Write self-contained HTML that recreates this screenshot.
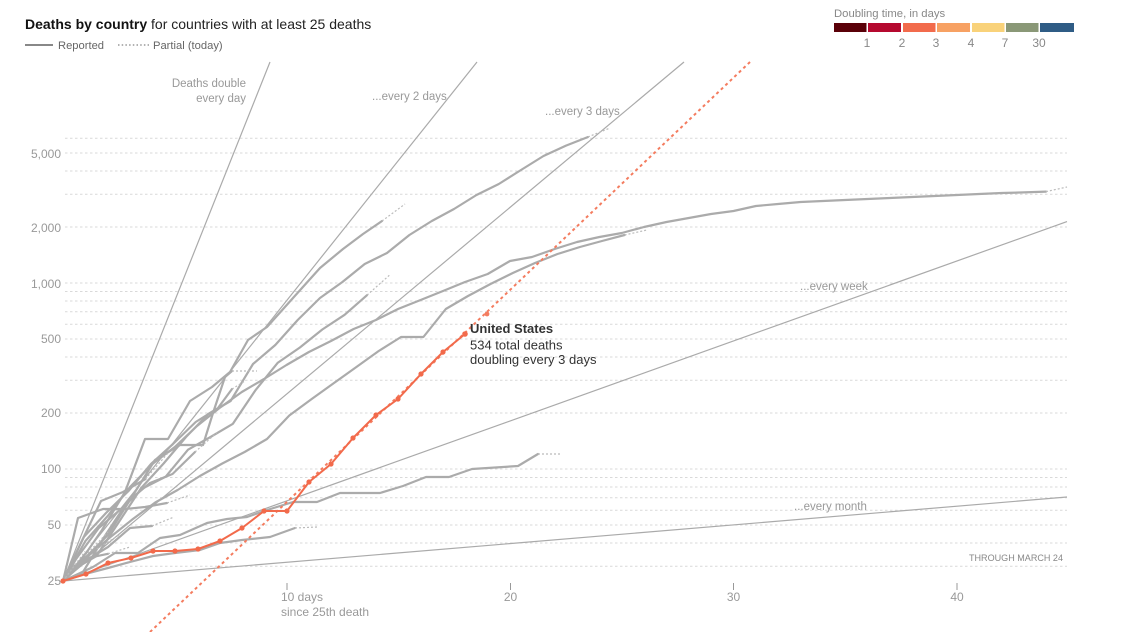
<!DOCTYPE html>
<html>
<head>
<meta charset="utf-8">
<style>
  html,body{margin:0;padding:0;background:#fff;}
  svg{display:block;}
  text{font-family:"Liberation Sans",Arial,sans-serif;}
</style>
</head>
<body>
<svg width="1136" height="632" viewBox="0 0 1136 632" xmlns="http://www.w3.org/2000/svg">
  <rect width="1136" height="632" fill="#fff"/>

  <!-- Title -->
  <text x="25" y="29" font-size="14" fill="#121212"><tspan font-weight="bold">Deaths by country</tspan><tspan fill="#222"> for countries with at least 25 deaths</tspan></text>

  <!-- Legend -->
  <line x1="25" y1="45" x2="53" y2="45" stroke="#888" stroke-width="2"/>
  <text x="58" y="49" font-size="11.2" fill="#666">Reported</text>
  <line x1="118" y1="45" x2="149" y2="45" stroke="#999" stroke-width="1.4" stroke-dasharray="1.5 2.2"/>
  <text x="153" y="49" font-size="11.2" fill="#666">Partial (today)</text>

  <!-- Doubling time key -->
  <text x="834" y="17" font-size="11.3" fill="#888">Doubling time, in days</text>
  <rect x="834" y="23" width="32.5" height="9" fill="#5a0008"/>
  <rect x="868" y="23" width="33" height="9" fill="#b5092f"/>
  <rect x="903" y="23" width="32.5" height="9" fill="#f26b4c"/>
  <rect x="937" y="23" width="33" height="9" fill="#f7a163"/>
  <rect x="972" y="23" width="32.5" height="9" fill="#f9d27a"/>
  <rect x="1006" y="23" width="32.5" height="9" fill="#8a9877"/>
  <rect x="1040" y="23" width="34" height="9" fill="#2f5c85"/>
  <g font-size="12" fill="#888" text-anchor="middle">
    <text x="867" y="47">1</text>
    <text x="902" y="47">2</text>
    <text x="936" y="47">3</text>
    <text x="971" y="47">4</text>
    <text x="1005" y="47">7</text>
    <text x="1039" y="47">30</text>
  </g>

  <!-- Gridlines -->
  <g stroke="#d9d9d9" stroke-width="1" stroke-dasharray="2.5 2.5">
    <line x1="65" x2="1067" y1="566.3" y2="566.3"/>
    <line x1="65" x2="1067" y1="543" y2="543"/>
    <line x1="65" x2="1067" y1="525" y2="525"/>
    <line x1="65" x2="1067" y1="510.3" y2="510.3"/>
    <line x1="65" x2="1067" y1="497.8" y2="497.8"/>
    <line x1="65" x2="1067" y1="487" y2="487"/>
    <line x1="65" x2="1067" y1="477.5" y2="477.5"/>
    <line x1="65" x2="1067" y1="469" y2="469"/>
    <line x1="65" x2="1067" y1="413" y2="413"/>
    <line x1="65" x2="1067" y1="380.2" y2="380.2"/>
    <line x1="65" x2="1067" y1="357" y2="357"/>
    <line x1="65" x2="1067" y1="339" y2="339"/>
    <line x1="65" x2="1067" y1="324.2" y2="324.2"/>
    <line x1="65" x2="1067" y1="311.8" y2="311.8"/>
    <line x1="65" x2="1067" y1="301" y2="301"/>
    <line x1="65" x2="1067" y1="291.5" y2="291.5"/>
    <line x1="65" x2="1067" y1="283" y2="283"/>
    <line x1="65" x2="1067" y1="227" y2="227"/>
    <line x1="65" x2="1067" y1="194.2" y2="194.2"/>
    <line x1="65" x2="1067" y1="171" y2="171"/>
    <line x1="65" x2="1067" y1="153" y2="153"/>
    <line x1="65" x2="1067" y1="138.2" y2="138.2"/>
  </g>

  <!-- Y labels -->
  <g font-size="12" fill="#999" text-anchor="end">
    <text x="61" y="158">5,000</text>
    <text x="61" y="232">2,000</text>
    <text x="61" y="288">1,000</text>
    <text x="61" y="343">500</text>
    <text x="61" y="417">200</text>
    <text x="61" y="473">100</text>
    <text x="61" y="529">50</text>
    <text x="61" y="585">25</text>
  </g>

  <!-- X ticks / labels -->
  <g stroke="#999" stroke-width="1">
    <line x1="287" y1="583" x2="287" y2="590"/>
    <line x1="510.5" y1="583" x2="510.5" y2="590"/>
    <line x1="733.5" y1="583" x2="733.5" y2="590"/>
    <line x1="957" y1="583" x2="957" y2="590"/>
  </g>
  <g font-size="12" fill="#999">
    <text x="281" y="601">10 days</text>
    <text x="281" y="616">since 25th death</text>
    <text x="510.5" y="601" text-anchor="middle">20</text>
    <text x="733.5" y="601" text-anchor="middle">30</text>
    <text x="957" y="601" text-anchor="middle">40</text>
  </g>
  <text x="1063" y="561" font-size="9.5" fill="#888" text-anchor="end" textLength="94" lengthAdjust="spacingAndGlyphs">THROUGH MARCH 24</text>

  <!-- Reference lines -->
  <g stroke="#aaa" stroke-width="1.2" fill="none">
    <line x1="63" y1="581" x2="270" y2="62"/>
    <line x1="63" y1="581" x2="477" y2="62"/>
    <line x1="63" y1="581" x2="684" y2="62"/>
    <line x1="63" y1="581" x2="1067" y2="221.6"/>
    <line x1="63" y1="581" x2="1067" y2="497"/>
  </g>

  <!-- Reference labels -->
  <g font-size="11.5" fill="#999">
    <text x="246" y="87" text-anchor="end">Deaths double</text>
    <text x="246" y="102" text-anchor="end">every day</text>
    <text x="372" y="100">...every 2 days</text>
    <text x="545" y="115">...every 3 days</text>
    <text x="800" y="290">...every week</text>
    <text x="794" y="510">...every month</text>
  </g>

  <!-- Country series -->
  <g stroke="#ababab" stroke-width="2.2" fill="none" stroke-linejoin="round" stroke-linecap="round">
    <!-- China -->
    <polyline points="63,581 85.4,541 107.7,516 130,487 152.4,464 174.8,447 197,426 219.5,408 241.8,392 264,379 286.5,365 308.9,352 331,341 353.6,329 375.9,320 398,309 420.6,300 443,291 465,282 487.7,274 510,261 532,257 554.7,249 577,242 599.4,237 621.8,233 644,227 666.5,222 688.8,218 711,214 733.5,211 755.9,206 778,204 800.6,202 823,201 845,200 867.6,199 890,198 912,197 934.7,196 957,195 979,194 1001.7,193 1024,192.4 1046,191.6"/>
    <!-- Italy -->
    <polyline points="63,581 74.2,569 96.5,556 118.9,522 141.2,488 163.6,463.5 186,437 208.3,414 230.6,401 253,364 275.3,345 297.7,320 320,298 342.4,282 364.7,264 387,253 409.4,235 431.8,221 454,209 476.5,195 498.8,184 521,170 543.5,156 566,145.6 588,137"/>
    <!-- Iran -->
    <polyline points="63,581 65.8,578 88.2,556 110.5,537 132.9,519 155.2,502.5 177.6,490 199.9,476 222.3,463.5 244.6,452 267,439 289.3,415.5 311.7,399 334,383 356.4,367 378.7,351 401,337 423.4,337 445.8,309 468,296 490.5,284 512.8,273 535,263 557.5,254 579.9,247 602,241 624.6,235"/>
    <!-- Spain -->
    <polyline points="63,581 80,562 102,530 125,492 145,439 168,439 190,401 212,387 230,372 248,340 267,327 293,298 320,268 343,249 363,234 382,221"/>
    <!-- France -->
    <polyline points="63,581 76.4,558.6 98.8,528 121,509 143.5,488 165.8,476.6 188,449.7 210.5,437 232.9,423.8 255.2,390.6 277.6,362.9 299.9,347.5 322.3,329.5 344.6,314.8 367,295.2"/>
    <!-- UK -->
    <polyline points="63,581 85,558 108,535 130,500 155,460 180,445 203,445 213,413 225,377 232,371"/>
    <!-- Netherlands -->
    <polyline points="63,581 83.8,537 106,513 128.5,491 151,464 173,444 195.7,422 218,408 232,389"/>
    <!-- Germany -->
    <polyline points="63,581 83,572 105.5,535 128,501 150,483 172.5,474 195,452"/>
    <!-- Belgium -->
    <polyline points="63,581 78,549 101,501 123,492 145.5,479"/>
    <!-- Switzerland-ish -->
    <polyline points="63,581 78,518 103,509 125,509 145,507 167,503"/>
    <!-- Indonesia -->
    <polyline points="63,581 85,561 108,547 130,528 152,526"/>
    <!-- South Korea -->
    <polyline points="63,581 93,567 115,553 138,553 160,538 180,535 207,523 227,519 247,517 267,510 293,502 317,502 340,493 380,493 403,486 426,477 449,477 472,469 518,466 538,454"/>
    <!-- Japan -->
    <polyline points="63,581 85,574 108,568 130,562 153,556 175,553 200,550 220,543 242,540 270,537 295,528"/>
    <!-- Philippines -->
    <polyline points="63,581 85,558.6 108,553.8"/>
    <!-- Brazil -->
    <polyline points="63,581 85,556"/>
    <!-- Turkey -->
    <polyline points="63,581 74.4,566 96.8,549"/>
  </g>

  <!-- Partial (today) segments -->
  <g stroke="#bbb" stroke-width="1.2" fill="none" stroke-dasharray="2 2">
    <line x1="1046" y1="191.6" x2="1067" y2="187"/>
    <line x1="588" y1="137" x2="610" y2="128"/>
    <line x1="624.6" y1="235" x2="647" y2="230"/>
    <line x1="382" y1="221" x2="405" y2="204"/>
    <line x1="367" y1="295.2" x2="389.3" y2="275.3"/>
    <line x1="232" y1="371" x2="257" y2="371"/>
    <line x1="232" y1="389" x2="245" y2="381"/>
    <line x1="195" y1="452" x2="217" y2="432.5"/>
    <line x1="145.5" y1="479" x2="168" y2="453"/>
    <line x1="167" y1="503" x2="190" y2="495"/>
    <line x1="152" y1="526" x2="174" y2="517"/>
    <line x1="538" y1="454" x2="561" y2="454"/>
    <line x1="295" y1="528" x2="317" y2="527"/>
    <line x1="108" y1="553.8" x2="130" y2="547"/>
    <line x1="85" y1="556" x2="108" y2="532"/>
    <line x1="96.8" y1="549" x2="119" y2="535"/>
    <line x1="63" y1="581" x2="85" y2="551.5"/>
  </g>

  <!-- US projection -->
  <line x1="150" y1="632" x2="750" y2="62" stroke="#f47c5f" stroke-width="2" stroke-dasharray="3 3.2"/>

  <!-- United States -->
  <polyline fill="none" stroke="#f26a4b" stroke-width="2" stroke-linejoin="round"
    points="63,581 86,574 108,563 131,558 153,551 175,551 198,549 220,541 242,528 264,511 287,511 309,482 331,464 353,438 376,415 398,399 421,374 443,352 465,334"/>
  <g fill="#f26a4b">
    <circle cx="63" cy="581" r="2.6"/>
    <circle cx="86" cy="574" r="2.6"/>
    <circle cx="108" cy="563" r="2.6"/>
    <circle cx="131" cy="558" r="2.6"/>
    <circle cx="153" cy="551" r="2.6"/>
    <circle cx="175" cy="551" r="2.6"/>
    <circle cx="198" cy="549" r="2.6"/>
    <circle cx="220" cy="541" r="2.6"/>
    <circle cx="242" cy="528" r="2.6"/>
    <circle cx="264" cy="511" r="2.6"/>
    <circle cx="287" cy="511" r="2.6"/>
    <circle cx="309" cy="482" r="2.6"/>
    <circle cx="331" cy="464" r="2.6"/>
    <circle cx="353" cy="438" r="2.6"/>
    <circle cx="376" cy="415" r="2.6"/>
    <circle cx="398" cy="399" r="2.6"/>
    <circle cx="421" cy="374" r="2.6"/>
    <circle cx="443" cy="352" r="2.6"/>
    <circle cx="465" cy="334" r="2.8"/>
    <circle cx="487" cy="314" r="2.4" fill="#f47c5f"/>
  </g>

  <!-- US label -->
  <text x="470" y="333" font-size="13" font-weight="bold" fill="#333">United States</text>
  <text x="470" y="349.5" font-size="13" fill="#333">534 total deaths</text>
  <text x="470" y="364" font-size="13" fill="#333">doubling every 3 days</text>
</svg>
</body>
</html>
